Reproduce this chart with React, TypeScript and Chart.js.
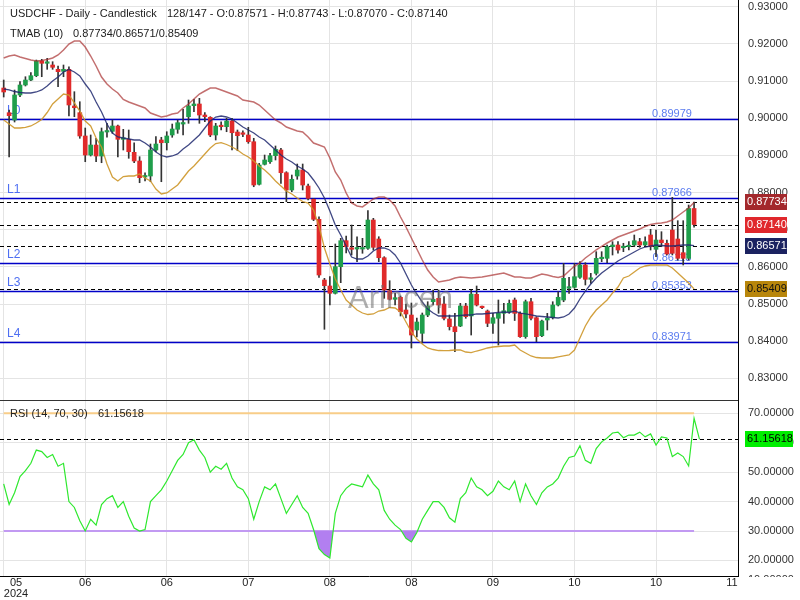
import React, { useEffect, useRef } from 'react';
import { Chart, registerables } from 'chart.js';
Chart.register(...registerables);

const opens = [0.90813,0.90149,0.89952,0.90625,0.90894,0.91028,0.91144,0.91540,0.91478,0.91432,0.91316,0.91262,0.91316,0.90329,0.90149,0.89522,0.89010,0.89279,0.88983,0.89629,0.89648,0.89791,0.89433,0.89433,0.89083,0.88849,0.88418,0.88445,0.89145,0.89414,0.89341,0.89549,0.89702,0.89844,0.90041,0.90337,0.90383,0.90087,0.90025,0.89549,0.89799,0.89772,0.89925,0.89629,0.89594,0.89549,0.89368,0.88222,0.88760,0.88830,0.88992,0.89145,0.88534,0.88069,0.88445,0.88607,0.88176,0.87818,0.87280,0.85647,0.85486,0.85289,0.86005,0.86705,0.86495,0.86481,0.86481,0.86500,0.87261,0.86750,0.86247,0.85359,0.85128,0.85182,0.84840,0.84705,0.84302,0.84213,0.84705,0.85063,0.85155,0.85001,0.84598,0.84391,0.84409,0.84948,0.84679,0.85262,0.84929,0.84813,0.84482,0.84617,0.84751,0.84794,0.85109,0.84751,0.84122,0.85063,0.84633,0.84148,0.84571,0.84633,0.84974,0.85109,0.85424,0.85451,0.85720,0.86051,0.85666,0.85827,0.86220,0.86231,0.86543,0.86589,0.86516,0.86543,0.86589,0.86678,0.86589,0.86858,0.86473,0.86723,0.86635,0.86992,0.86750,0.86382,0.86231,0.87571];
const highs = [0.91028,0.90221,0.90759,0.90983,0.91117,0.91225,0.91566,0.91585,0.91612,0.91521,0.91405,0.91432,0.91386,0.90714,0.90444,0.89737,0.89549,0.89460,0.89737,0.89863,0.89952,0.89818,0.89702,0.89683,0.89341,0.88965,0.88534,0.89306,0.89503,0.89487,0.89637,0.89844,0.89952,0.90240,0.90490,0.90509,0.90536,0.90149,0.90041,0.89863,0.89906,0.89998,0.89998,0.89683,0.89664,0.89756,0.89460,0.88787,0.89010,0.89056,0.89253,0.89191,0.88561,0.88472,0.88768,0.88768,0.88230,0.87845,0.87350,0.85693,0.85736,0.86616,0.86769,0.86831,0.87127,0.86812,0.86769,0.87512,0.87307,0.86812,0.86274,0.85628,0.85289,0.85217,0.85001,0.85028,0.84625,0.84759,0.85063,0.85378,0.85378,0.85198,0.84705,0.84751,0.85020,0.85020,0.85378,0.85486,0.84948,0.84840,0.84751,0.85109,0.85020,0.85109,0.85163,0.84794,0.85109,0.85155,0.84660,0.84571,0.84751,0.85063,0.85332,0.86096,0.85720,0.86096,0.86140,0.86113,0.85827,0.86409,0.86409,0.86589,0.86678,0.86678,0.86635,0.86678,0.86858,0.86769,0.86812,0.87011,0.86992,0.86947,0.86723,0.87872,0.87243,0.87243,0.87665,0.87743];
const lows = [0.90571,0.88957,0.89898,0.90579,0.90867,0.91009,0.91117,0.91117,0.91316,0.91316,0.90848,0.91117,0.90060,0.90041,0.89460,0.88830,0.88983,0.88830,0.88803,0.89487,0.89594,0.88957,0.89145,0.88922,0.88803,0.88265,0.88311,0.88292,0.89099,0.88292,0.89145,0.89487,0.89594,0.89549,0.89863,0.90175,0.89863,0.89906,0.89503,0.89414,0.89683,0.89637,0.89145,0.89126,0.89503,0.89325,0.88157,0.88203,0.88741,0.88787,0.88876,0.88249,0.87754,0.88023,0.88357,0.88069,0.87800,0.87243,0.85720,0.84321,0.84974,0.85270,0.85575,0.86374,0.86320,0.86140,0.86366,0.86473,0.86454,0.86140,0.85155,0.85109,0.84974,0.84679,0.84625,0.83818,0.84113,0.83952,0.84660,0.84974,0.84751,0.84571,0.84302,0.83718,0.84391,0.84617,0.84167,0.84948,0.84875,0.84391,0.84213,0.83898,0.84482,0.84751,0.84557,0.84100,0.84079,0.84571,0.83987,0.84122,0.84302,0.84598,0.84948,0.85063,0.85289,0.85424,0.85693,0.85513,0.85558,0.85782,0.86140,0.86113,0.86320,0.86366,0.86409,0.86454,0.86543,0.86527,0.86562,0.86454,0.86274,0.86543,0.86320,0.86320,0.86185,0.86051,0.86185,0.87070];
const closes = [0.90706,0.90068,0.90625,0.90894,0.91028,0.91144,0.91540,0.91478,0.91505,0.91370,0.91252,0.91316,0.90356,0.90283,0.89522,0.89010,0.89279,0.88983,0.89637,0.89664,0.89791,0.89433,0.89460,0.89099,0.88849,0.88400,0.88445,0.89145,0.89306,0.89341,0.89522,0.89710,0.89879,0.89879,0.90329,0.90383,0.90087,0.90041,0.89549,0.89791,0.89772,0.89925,0.89610,0.89530,0.89567,0.89368,0.88203,0.88741,0.88876,0.88992,0.89164,0.88534,0.88069,0.88357,0.88607,0.88203,0.87845,0.87280,0.85782,0.85494,0.85289,0.86005,0.86705,0.86543,0.86473,0.86508,0.86508,0.87261,0.86527,0.86247,0.85378,0.85128,0.85171,0.84794,0.84732,0.84167,0.84517,0.84705,0.84948,0.85128,0.84974,0.84617,0.84391,0.84256,0.84948,0.84660,0.85270,0.84974,0.84902,0.84482,0.84633,0.84751,0.84821,0.85020,0.84751,0.84122,0.85063,0.84617,0.84122,0.84544,0.84617,0.84974,0.85182,0.85693,0.85467,0.85736,0.86051,0.85666,0.85701,0.86231,0.86247,0.86543,0.86589,0.86454,0.86543,0.86581,0.86705,0.86589,0.86678,0.86543,0.86723,0.86651,0.86347,0.86366,0.86231,0.86231,0.87571,0.87140];

const tmabUpper = [0.91620,0.91674,0.91701,0.91647,0.91607,0.91567,0.91540,0.91553,0.91580,0.91620,0.91701,0.91836,0.91997,0.92078,0.92078,0.91916,0.91674,0.91405,0.91109,0.90921,0.90786,0.90679,0.90504,0.90437,0.90383,0.90329,0.90275,0.90141,0.90087,0.90033,0.90060,0.90114,0.90141,0.90275,0.90383,0.90517,0.90652,0.90733,0.90813,0.90813,0.90760,0.90706,0.90652,0.90598,0.90490,0.90464,0.90437,0.90356,0.90221,0.90087,0.89952,0.89872,0.89764,0.89710,0.89656,0.89629,0.89495,0.89333,0.89280,0.89226,0.88930,0.88553,0.88338,0.87988,0.87719,0.87638,0.87612,0.87719,0.87827,0.87881,0.87881,0.87800,0.87638,0.87342,0.87073,0.86777,0.86481,0.86185,0.85916,0.85728,0.85594,0.85620,0.85647,0.85701,0.85728,0.85715,0.85701,0.85715,0.85728,0.85755,0.85782,0.85809,0.85836,0.85782,0.85728,0.85728,0.85701,0.85701,0.85755,0.85809,0.85782,0.85742,0.85715,0.85755,0.85890,0.86024,0.86105,0.86239,0.86347,0.86455,0.86549,0.86643,0.86724,0.86804,0.86858,0.86912,0.86966,0.87020,0.87087,0.87141,0.87168,0.87181,0.87208,0.87262,0.87369,0.87477,0.87585,0.87734];
const tmabMid = [0.90786,0.90760,0.90719,0.90692,0.90679,0.90679,0.90706,0.90760,0.90867,0.91002,0.91109,0.91244,0.91311,0.91244,0.91136,0.90921,0.90733,0.90437,0.90168,0.89845,0.89603,0.89495,0.89468,0.89441,0.89414,0.89414,0.89333,0.89226,0.89091,0.88997,0.88957,0.88984,0.89038,0.89172,0.89280,0.89414,0.89549,0.89737,0.89925,0.90033,0.90060,0.90033,0.89979,0.89872,0.89764,0.89683,0.89603,0.89495,0.89414,0.89280,0.89145,0.89011,0.88903,0.88822,0.88715,0.88634,0.88526,0.88338,0.88123,0.87854,0.87504,0.87127,0.86858,0.86562,0.86266,0.86212,0.86212,0.86293,0.86428,0.86508,0.86508,0.86455,0.86320,0.86105,0.85809,0.85513,0.85271,0.85055,0.84867,0.84759,0.84679,0.84679,0.84679,0.84679,0.84692,0.84706,0.84706,0.84733,0.84733,0.84746,0.84759,0.84773,0.84786,0.84773,0.84813,0.84759,0.84733,0.84706,0.84679,0.84665,0.84652,0.84638,0.84625,0.84652,0.84733,0.84894,0.85136,0.85351,0.85540,0.85701,0.85836,0.85943,0.86051,0.86159,0.86239,0.86320,0.86401,0.86481,0.86535,0.86562,0.86589,0.86576,0.86562,0.86562,0.86576,0.86589,0.86589,0.86571];
const tmabLower = [0.89952,0.89845,0.89737,0.89737,0.89751,0.89791,0.89872,0.89966,0.90154,0.90383,0.90517,0.90652,0.90625,0.90410,0.90194,0.89925,0.89791,0.89468,0.89226,0.88768,0.88419,0.88311,0.88432,0.88446,0.88446,0.88499,0.88392,0.88311,0.88096,0.87961,0.87988,0.88096,0.88203,0.88392,0.88580,0.88715,0.88876,0.89038,0.89199,0.89320,0.89342,0.89293,0.89226,0.89145,0.89038,0.88957,0.88849,0.88715,0.88607,0.88472,0.88311,0.88177,0.88042,0.87961,0.87854,0.87759,0.87719,0.87531,0.87100,0.86508,0.86078,0.85674,0.85378,0.85109,0.84975,0.84840,0.84759,0.84719,0.84733,0.84813,0.84840,0.84907,0.84894,0.84786,0.84517,0.84248,0.84060,0.83925,0.83818,0.83777,0.83750,0.83745,0.83750,0.83764,0.83764,0.83710,0.83691,0.83737,0.83777,0.83818,0.83845,0.83858,0.83872,0.83872,0.83898,0.83764,0.83683,0.83603,0.83562,0.83549,0.83549,0.83549,0.83576,0.83603,0.83629,0.83764,0.84087,0.84410,0.84652,0.84840,0.84975,0.85109,0.85298,0.85459,0.85701,0.85755,0.85863,0.85970,0.86024,0.86051,0.86051,0.86051,0.86051,0.85970,0.85836,0.85701,0.85567,0.85409];

const rsi = [46,39,43,48.5,50.5,53,57.5,57,55,56,52,53,40,38,33.5,30,34,32,39,41,42,38,40,35,31,30,30.5,40,42,44,47,50.5,54,56,60,61,57.5,55,50,52,51,53,48,45,44,41,34,40,45,44,46,41,36,39,42,38,36,30.5,24,22,20.8,36,42,44.5,46,45.5,45,49,46,44,37,34,32,30.5,27.5,26.3,29.5,34,37,40,40,38,34.5,33,41,43,48,45,44,42,43.5,47,45,44,47,40,46,42,39,43,45,46,48,52,55,55.5,59,54,53,58,60.3,61.6,63.3,63.6,61.7,62.6,62.6,63.6,62,63,59.2,62,61.6,55.3,56.5,55.3,52.1,68.3,61.15618];

const levelValues = [0.89979, 0.87866, 0.86113, 0.85353, 0.83971];
const levelNames = ['L0', 'L1', 'L2', 'L3', 'L4'];
const priceTicks = [0.83, 0.84, 0.85, 0.86, 0.87, 0.88, 0.89, 0.90, 0.91, 0.92, 0.93];
const rsiTicks = [20, 30, 40, 50, 60, 70];
const rsiCutTick = 10;
const xTickIndex = [0, 15, 30, 45, 60, 75, 90, 105, 120, 135];
const xTickLabels = ['05', '06', '06', '07', '08', '08', '09', '10', '10', '11'];
const lastUpper = 0.87734;
const lastMid = 0.86571;
const lastLower = 0.85409;
const lastClose = 0.87140;
const lastRsi = 61.15618;

const FONT = '"Liberation Sans", Arial, sans-serif';
const GREEN = '#1f9e4b';
const RED = '#e02a2a';

export default function App() {
  const ref = useRef<HTMLCanvasElement>(null);
  useEffect(() => {
    document.body.style.margin = '0';
    const canvas = ref.current!;
    const idx = closes.map((_, i) => i);
    const wicks = idx.map(i => ({ x: i, y: [lows[i], highs[i]] }));
    const bodies = idx.map(i => ({ x: i, y: [Math.min(opens[i], closes[i]), Math.max(opens[i], closes[i])] }));
    const line = (arr: number[]) => arr.map((v, i) => ({ x: i, y: v }));
    const last = closes.length - 1;

    const noPad = (w: number) => (s: any) => {
      s.width = w;
      s.paddingTop = 0;
      s.paddingBottom = 0;
      s.paddingLeft = 0;
      s.paddingRight = 0;
    };

    const overlay = {
      id: 'overlay',
      beforeDatasetsDraw(chart: any) {
        const { ctx, chartArea } = chart;
        const y = chart.scales.y;
        const yr = chart.scales.yRsi;
        ctx.save();
        levelValues.forEach((v, k) => {
          const py = Math.round(y.getPixelForValue(v)) + 0.5;
          ctx.strokeStyle = '#0000c8';
          ctx.lineWidth = 1.3;
          ctx.setLineDash([]);
          ctx.beginPath();
          ctx.moveTo(chartArea.left, py);
          ctx.lineTo(chartArea.right, py);
          ctx.stroke();
          ctx.fillStyle = '#4f6ff2';
          ctx.font = '12px ' + FONT;
          ctx.textAlign = 'left';
          ctx.textBaseline = 'alphabetic';
          ctx.fillText(levelNames[k], 7, py - 6);
          ctx.fillStyle = '#5b7cf0';
          ctx.font = '11px ' + FONT;
          ctx.textAlign = 'center';
          ctx.fillText(v.toFixed(5), 672, py - 3);
        });
        ctx.strokeStyle = '#000';
        ctx.lineWidth = 1;
        ctx.setLineDash([4, 3]);
        [lastUpper, lastClose, lastMid, lastLower].forEach(v => {
          const py = Math.round(y.getPixelForValue(v)) + 0.5;
          ctx.beginPath();
          ctx.moveTo(chartArea.left, py);
          ctx.lineTo(chartArea.right, py);
          ctx.stroke();
        });
        const pr = Math.round(yr.getPixelForValue(lastRsi)) + 0.5;
        ctx.beginPath();
        ctx.moveTo(chartArea.left, pr);
        ctx.lineTo(chartArea.right, pr);
        ctx.stroke();
        ctx.restore();
      },
      afterDraw(chart: any) {
        const { ctx, chartArea } = chart;
        const y = chart.scales.y;
        const yr = chart.scales.yRsi;
        const x = chart.scales.x;
        ctx.save();
        ctx.strokeStyle = '#333';
        ctx.lineWidth = 1;
        ctx.setLineDash([]);
        const sep = Math.round(y.bottom) + 0.5;
        ctx.beginPath();
        ctx.moveTo(chartArea.left, sep);
        ctx.lineTo(chartArea.right, sep);
        ctx.stroke();
        ctx.font = '31px ' + FONT;
        ctx.fillStyle = 'rgba(110,110,110,0.55)';
        ctx.textAlign = 'left';
        ctx.textBaseline = 'alphabetic';
        ctx.fillText('Arincen', 348, 308);
        ctx.font = '11px ' + FONT;
        ctx.fillStyle = '#222';
        ctx.textBaseline = 'middle';
        ctx.fillText('USDCHF - Daily - Candlestick', 10, 14);
        ctx.fillText('128/147 - O:' + opens[last].toFixed(5) + ' - H:' + highs[last].toFixed(5) + ' - L:' + lows[last].toFixed(5) + ' - C:' + closes[last].toFixed(5), 167, 14);
        ctx.fillText('TMAB (10)', 10, 34);
        ctx.fillText(lastUpper.toFixed(5) + '/' + lastMid.toFixed(5) + '/' + lastLower.toFixed(5), 73, 34);
        ctx.fillText('RSI (14, 70, 30)', 10, 414);
        ctx.fillText(lastRsi.toFixed(5), 98, 414);
        const box = (val: string, py: number, bg: string, fg: string, w: number) => {
          ctx.fillStyle = bg;
          ctx.fillRect(745, Math.round(py - 8), w, 16);
          ctx.fillStyle = fg;
          ctx.textAlign = 'left';
          ctx.fillText(val, 747, py);
        };
        box(lastUpper.toFixed(5), y.getPixelForValue(lastUpper), '#a3282c', '#fff', 42);
        box(lastClose.toFixed(5), y.getPixelForValue(lastClose), '#e0282c', '#fff', 42);
        box(lastMid.toFixed(5), y.getPixelForValue(lastMid), '#1b2260', '#fff', 42);
        box(lastLower.toFixed(5), y.getPixelForValue(lastLower), '#b8860b', '#111', 42);
        box(lastRsi.toFixed(5), yr.getPixelForValue(lastRsi), '#00ee00', '#000', 48);
        // partially hidden lowest RSI tick label
        ctx.save();
        ctx.beginPath();
        ctx.rect(740, 570, 60, 7);
        ctx.clip();
        ctx.fillStyle = '#333';
        ctx.textAlign = 'left';
        ctx.fillText(rsiCutTick.toFixed(5), 748, 580);
        ctx.restore();
        ctx.fillStyle = '#222';
        ctx.textAlign = 'center';
        xTickIndex.forEach((v, k) => {
          let px = x.getPixelForValue(v);
          if (k === 0) px = 16;
          if (px > chartArea.right - 6) px = chartArea.right - 6;
          ctx.fillText(xTickLabels[k], px, 583);
        });
        ctx.fillText('2024', 16, 594);
        ctx.restore();
      },
    };

    const chart = new Chart(canvas, {
      type: 'bar',
      data: {
        datasets: [
          { type: 'line', data: line(tmabUpper), yAxisID: 'y', borderColor: 'rgba(170,50,50,0.7)', borderWidth: 1.5, pointRadius: 0, order: 1 } as any,
          { type: 'line', data: line(tmabMid), yAxisID: 'y', borderColor: 'rgba(30,40,110,0.85)', borderWidth: 1.3, pointRadius: 0, order: 1 },
          { type: 'line', data: line(tmabLower), yAxisID: 'y', borderColor: 'rgba(205,150,40,0.9)', borderWidth: 1.3, pointRadius: 0, order: 1 },
          {
            type: 'bar', data: bodies, yAxisID: 'y', barThickness: 4, grouped: false, minBarLength: 1.5, order: 2,
            backgroundColor: (c: any) => (closes[c.dataIndex] >= opens[c.dataIndex] ? GREEN : RED),
          },
          { type: 'bar', data: wicks, yAxisID: 'y', barThickness: 1, grouped: false, backgroundColor: '#333', order: 3 },
          {
            type: 'line', data: line(rsi), yAxisID: 'yRsi', borderColor: '#2ee82e', borderWidth: 1.2, pointRadius: 0, order: 1,
            fill: { target: { value: 30 }, above: 'rgba(0,0,0,0)', below: '#b27ff0' },
          },
          { type: 'line', data: [{ x: 0, y: 70 }, { x: last, y: 70 }], yAxisID: 'yRsi', borderColor: '#f8cd88', borderWidth: 2, pointRadius: 0, order: 3 },
          { type: 'line', data: [{ x: 0, y: 30 }, { x: last, y: 30 }], yAxisID: 'yRsi', borderColor: '#c29af2', borderWidth: 2, pointRadius: 0, order: 3 },
        ] as any,
      },
      options: {
        animation: false,
        responsive: false,
        devicePixelRatio: 1,
        layout: { padding: 0 },
        plugins: { legend: { display: false }, tooltip: { enabled: false } },
        scales: {
          x: {
            type: 'linear', min: -0.68, max: 135.08, offset: false,
            afterBuildTicks: (s: any) => { s.ticks = xTickIndex.slice(0, 9).map(v => ({ value: v })); },
            ticks: { display: false },
            grid: { color: '#e4e4e4', drawTicks: false, offset: false },
            border: { display: true, color: '#000' },
            afterFit: (s: any) => { s.height = 24; s.paddingLeft = 0; s.paddingRight = 0; s.paddingTop = 0; s.paddingBottom = 0; },
          },
          y: {
            type: 'linear', axis: 'y', position: 'right', stack: 'panes', stackWeight: 400,
            min: 0.824186, max: 0.93181,
            afterBuildTicks: (s: any) => { s.ticks = priceTicks.map(v => ({ value: v })); },
            ticks: { callback: (v: any) => Number(v).toFixed(5), padding: 10, color: '#333', font: { size: 11, family: FONT }, autoSkip: false },
            grid: { color: '#e4e4e4', drawTicks: false },
            border: { display: true, color: '#000' },
            afterFit: noPad(62),
          },
          yRsi: {
            type: 'linear', axis: 'y', position: 'right', stack: 'panes', stackWeight: 176,
            min: 14.71, max: 74.52,
            afterBuildTicks: (s: any) => { s.ticks = rsiTicks.map(v => ({ value: v })); },
            ticks: { callback: (v: any) => Number(v).toFixed(5), padding: 10, color: '#333', font: { size: 11, family: FONT }, autoSkip: false },
            grid: { color: '#e4e4e4', drawTicks: false },
            border: { display: true, color: '#000' },
            afterFit: noPad(62),
          },
        } as any,
      },
      plugins: [overlay],
    });
    return () => chart.destroy();
  }, []);
  return <canvas ref={ref} width={800} height={600} style={{ display: 'block', width: 800, height: 600 }} />;
}
